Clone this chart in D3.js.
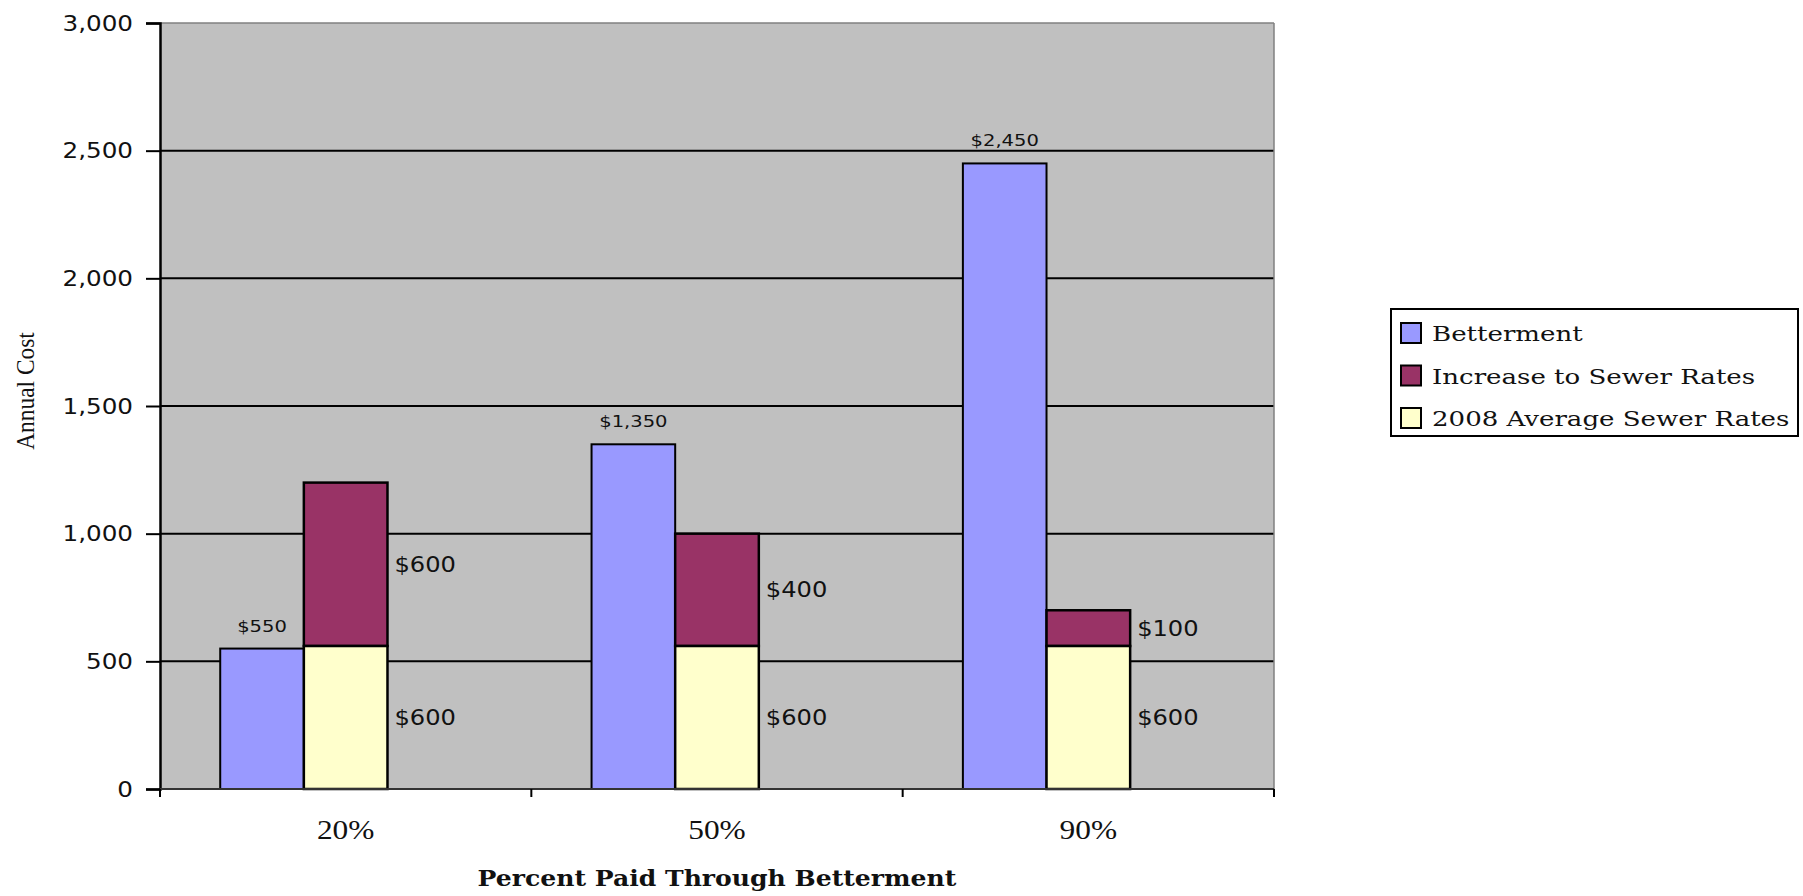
<!DOCTYPE html>
<html>
<head>
<meta charset="utf-8">
<script src="https://cdn.jsdelivr.net/npm/d3@7"></script>
<style>
  body { margin: 0; background: #fff; }
</style>
</head>
<body>
<script>
var categories = ['20%', '50%', '90%'];
var betterment = [550, 1350, 2450];
var averageRates = [560, 560, 560];
var increaseRates = [640, 440, 140];
var increaseLabels = ['$600', '$400', '$100'];
var averageLabels = ['$600', '$600', '$600'];
var seriesNames = ['Betterment', 'Increase to Sewer Rates', '2008 Average Sewer Rates'];
var yTicks = [0, 500, 1000, 1500, 2000, 2500, 3000];

var colors = ['#9999FF', '#993366', '#FFFFCC'];

var width = 1803;
var height = 896;
var plotLeft = 160, plotRight = 1274, plotTop = 23, plotBottom = 789;

// the source picture is a little wider than its fonts, so stretch text a bit
function stretch(sel, k) {
  sel.each(function() {
    var w = this.getComputedTextLength();
    d3.select(this).attr('textLength', w * k).attr('lengthAdjust', 'spacingAndGlyphs');
  });
}

var svg = d3.select('body').append('svg')
  .attr('width', width)
  .attr('height', height);

var x0 = d3.scaleBand().domain(categories).range([plotLeft, plotRight]);
var x1 = d3.scaleBand().domain(['betterment', 'rates', 'none'])
  .range([0, x0.bandwidth()]).paddingOuter(0.72);
var y = d3.scaleLinear().domain([0, 3000]).range([plotBottom, plotTop]);

// plot area
svg.append('rect')
  .attr('x', plotLeft).attr('y', plotTop)
  .attr('width', plotRight - plotLeft).attr('height', plotBottom - plotTop)
  .attr('fill', '#C0C0C0');

svg.append('g').selectAll('line')
  .data(yTicks.filter(function(d) { return d > 0 && d < 3000; }))
  .join('line')
  .attr('x1', plotLeft).attr('x2', plotRight)
  .attr('y1', function(d) { return y(d); })
  .attr('y2', function(d) { return y(d); })
  .attr('stroke', '#000')
  .attr('stroke-width', 2);

svg.append('line')
  .attr('x1', plotLeft).attr('x2', plotRight).attr('y1', y(3000)).attr('y2', y(3000))
  .attr('stroke', '#808080').attr('stroke-width', 1.5);
svg.append('line')
  .attr('x1', plotRight).attr('x2', plotRight).attr('y1', plotTop).attr('y2', plotBottom)
  .attr('stroke', '#808080').attr('stroke-width', 1.5);

var groups = svg.append('g').selectAll('g')
  .data(categories)
  .join('g')
  .attr('transform', function(d) { return 'translate(' + x0(d) + ',0)'; });

// betterment bars
groups.append('rect')
  .attr('x', x1('betterment'))
  .attr('width', x1.bandwidth())
  .attr('y', function(d, i) { return y(betterment[i]); })
  .attr('height', function(d, i) { return y(0) - y(betterment[i]); })
  .attr('fill', colors[0])
  .attr('stroke', '#000')
  .attr('stroke-width', 2);

// stacked sewer rates
groups.append('rect')
  .attr('x', x1('rates'))
  .attr('width', x1.bandwidth())
  .attr('y', function(d, i) { return y(averageRates[i] + increaseRates[i]); })
  .attr('height', function(d, i) { return y(averageRates[i]) - y(averageRates[i] + increaseRates[i]); })
  .attr('fill', colors[1])
  .attr('stroke', '#000')
  .attr('stroke-width', 2.5);

groups.append('rect')
  .attr('x', x1('rates'))
  .attr('width', x1.bandwidth())
  .attr('y', function(d, i) { return y(averageRates[i]); })
  .attr('height', function(d, i) { return y(0) - y(averageRates[i]); })
  .attr('fill', colors[2])
  .attr('stroke', '#000')
  .attr('stroke-width', 2.5);

// labels
var fmt = d3.format('$,');
groups.append('text')
  .attr('class', 'blabel')
  .attr('x', x1('betterment') + x1.bandwidth() / 2)
  .attr('y', function(d, i) { return y(betterment[i]) - 17; })
  .attr('text-anchor', 'middle')
  .attr('font-family', 'DejaVu Sans')
  .attr('font-size', 16)
  .attr('fill', '#111')
  .text(function(d, i) { return fmt(betterment[i]); });

groups.append('text')
  .attr('class', 'rlabel')
  .attr('x', x1('rates') + x1.bandwidth() + 7)
  .attr('y', function(d, i) { return y(averageRates[i] + increaseRates[i] / 2); })
  .attr('dy', '0.36em')
  .attr('font-family', 'DejaVu Sans')
  .attr('font-size', 21)
  .attr('fill', '#111')
  .text(function(d, i) { return increaseLabels[i]; });

groups.append('text')
  .attr('class', 'rlabel')
  .attr('x', x1('rates') + x1.bandwidth() + 7)
  .attr('y', function(d, i) { return y(averageRates[i] / 2); })
  .attr('dy', '0.36em')
  .attr('font-family', 'DejaVu Sans')
  .attr('font-size', 21)
  .attr('fill', '#111')
  .text(function(d, i) { return averageLabels[i]; });

stretch(svg.selectAll('.blabel'), 1.22);
stretch(svg.selectAll('.rlabel'), 1.15);

// y axis
var yAxis = svg.append('g')
  .attr('transform', 'translate(' + plotLeft + ',0)')
  .call(d3.axisLeft(y).tickValues(yTicks).tickFormat(d3.format(',')).tickSize(14).tickPadding(13));
yAxis.select('.domain').attr('stroke', '#000').attr('stroke-width', 2.5);
yAxis.selectAll('.tick line').attr('stroke', '#000').attr('stroke-width', 2);
yAxis.selectAll('.tick text')
  .attr('font-family', 'DejaVu Sans')
  .attr('font-size', 22)
  .attr('fill', '#111');
stretch(yAxis.selectAll('.tick text'), 1.12);

// x axis
var xAxis = svg.append('g')
  .attr('transform', 'translate(0,' + plotBottom + ')');
xAxis.append('line')
  .attr('x1', plotLeft).attr('x2', plotRight)
  .attr('stroke', '#333').attr('stroke-width', 2);
xAxis.selectAll('line.tk')
  .data(categories.map(function(d) { return x0(d); }).concat([plotRight]))
  .join('line')
  .attr('class', 'tk')
  .attr('x1', function(d) { return d; }).attr('x2', function(d) { return d; })
  .attr('y1', 0).attr('y2', 8)
  .attr('stroke', '#000').attr('stroke-width', 2);
xAxis.selectAll('text')
  .data(categories)
  .join('text')
  .attr('x', function(d) { return x0(d) + x0.bandwidth() / 2; })
  .attr('y', 50)
  .attr('text-anchor', 'middle')
  .attr('font-family', 'Liberation Serif')
  .attr('font-size', 28)
  .attr('fill', '#111')
  .text(function(d) { return d; });
stretch(xAxis.selectAll('text'), 1.12);

// axis titles
var xTitle = svg.append('text')
  .attr('x', (plotLeft + plotRight) / 2)
  .attr('y', 886)
  .attr('text-anchor', 'middle')
  .attr('font-family', 'DejaVu Serif')
  .attr('font-weight', 'bold')
  .attr('font-size', 22)
  .attr('fill', '#111')
  .text('Percent Paid Through Betterment');
stretch(xTitle, 1.14);

var yTitle = svg.append('text')
  .attr('transform', 'translate(34,391) rotate(-90)')
  .attr('text-anchor', 'middle')
  .attr('font-family', 'Liberation Serif')
  .attr('font-size', 26)
  .attr('fill', '#111')
  .text('Annual Cost');
stretch(yTitle, 0.9);

// legend
var legend = svg.append('g').attr('transform', 'translate(1391,309)');
legend.append('rect')
  .attr('width', 407).attr('height', 127)
  .attr('fill', '#fff').attr('stroke', '#000').attr('stroke-width', 2);
var items = legend.selectAll('g.item')
  .data(seriesNames)
  .join('g')
  .attr('class', 'item')
  .attr('transform', function(d, i) { return 'translate(0,' + (24 + i * 42.5) + ')'; });
items.append('rect')
  .attr('x', 10).attr('y', -10).attr('width', 20).attr('height', 20)
  .attr('fill', function(d, i) { return colors[i]; })
  .attr('stroke', '#000').attr('stroke-width', 2);
items.append('text')
  .attr('x', 41)
  .attr('y', 8)
  .attr('font-family', 'DejaVu Serif')
  .attr('font-size', 21)
  .attr('fill', '#111')
  .text(function(d) { return d; });
stretch(items.selectAll('text'), 1.24);
</script>
</body>
</html>
